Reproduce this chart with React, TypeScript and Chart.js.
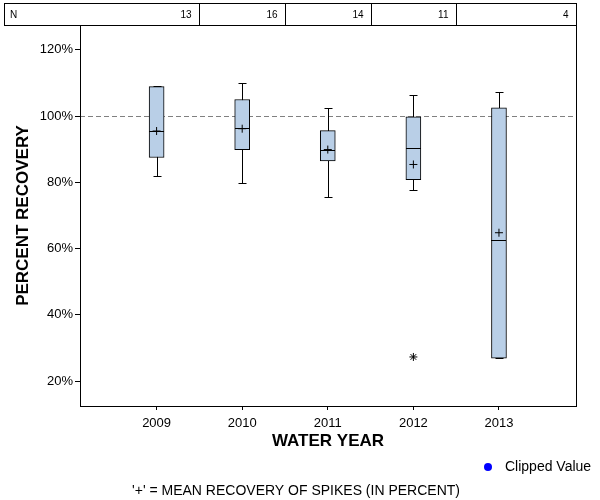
import React, { useEffect, useRef } from "react";
import { Chart, registerables } from "chart.js";

Chart.register(...registerables);

// ---- data ----
const YEARS = [2009, 2010, 2011, 2012, 2013];
const N_COUNTS = [13, 16, 14, 11, 4];
const Q1 = [87.5, 89.9, 86.5, 80.8, 26.9];
const Q3 = [108.9, 105.0, 95.6, 99.8, 102.5];
const MEDIAN = [95.4, 96.5, 89.9, 90.5, 62.6];
const MEAN = [95.5, 96.2, 89.9, 85.4, 64.8];
const WHISK_LO = [81.8, 79.8, 75.7, 77.7, 26.9];
const WHISK_HI = [109.1, 110.1, 102.5, 106.5, 107.2];
const OUTLIER_YEARS = [2012];
const OUTLIER_VALUES = [27.3];
const Y_TICKS = [20, 40, 60, 80, 100, 120];
const REF_LINE = 100;

const FONT = "'Liberation Sans', Arial, sans-serif";

const boxPlugin = {
  id: "boxExtras",
  beforeDatasetsDraw(chart: any) {
    const { ctx, chartArea: a, scales } = chart;
    const x = scales.x, y = scales.y;
    ctx.save();
    // reference line
    ctx.strokeStyle = "#808080";
    ctx.lineWidth = 1;
    ctx.setLineDash([5, 3]);
    const ry = Math.round(y.getPixelForValue(REF_LINE)) + 0.5;
    ctx.beginPath();
    ctx.moveTo(a.left, ry);
    ctx.lineTo(a.right, ry);
    ctx.stroke();
    ctx.setLineDash([]);
    // whiskers
    ctx.strokeStyle = "#000";
    YEARS.forEach((yr, i) => {
      const cx = Math.round(x.getPixelForValue(yr)) + 0.5;
      const hi = Math.round(y.getPixelForValue(WHISK_HI[i])) + 0.5;
      const lo = Math.round(y.getPixelForValue(WHISK_LO[i])) + 0.5;
      ctx.beginPath();
      ctx.moveTo(cx, hi);
      ctx.lineTo(cx, lo);
      ctx.moveTo(cx - 4, hi);
      ctx.lineTo(cx + 4, hi);
      ctx.moveTo(cx - 4, lo);
      ctx.lineTo(cx + 4, lo);
      ctx.stroke();
    });
    ctx.restore();
  },
  afterDatasetsDraw(chart: any) {
    const { ctx, scales } = chart;
    const x = scales.x, y = scales.y;
    ctx.save();
    ctx.strokeStyle = "#000";
    ctx.lineWidth = 1;
    YEARS.forEach((yr, i) => {
      const cx = x.getPixelForValue(yr);
      const my = Math.round(y.getPixelForValue(MEDIAN[i])) + 0.5;
      ctx.beginPath();
      ctx.moveTo(Math.round(cx - 7.5), my);
      ctx.lineTo(Math.round(cx + 7.5), my);
      ctx.stroke();
    });
    ctx.restore();
  },
  afterDraw(chart: any) {
    const { ctx, chartArea: a, scales } = chart;
    const x = scales.x;
    ctx.save();
    ctx.strokeStyle = "#000";
    ctx.lineWidth = 1;
    // plot frame
    ctx.strokeRect(Math.round(a.left) + 0.5, Math.round(a.top) + 0.5, Math.round(a.right - a.left), Math.round(a.bottom - a.top));
    // N table
    const tTop = 3.5, tBot = Math.round(a.top) + 0.5, tLeft = 4.5, tRight = Math.round(a.right) + 0.5;
    ctx.strokeRect(tLeft, tTop, tRight - tLeft, tBot - tTop);
    const borders = YEARS.slice(0, -1).map((yr) => Math.round(x.getPixelForValue(yr + 0.5)) + 0.5);
    ctx.beginPath();
    borders.forEach((bx) => {
      ctx.moveTo(bx, tTop);
      ctx.lineTo(bx, tBot);
    });
    ctx.stroke();
    ctx.fillStyle = "#000";
    ctx.font = `10px ${FONT}`;
    ctx.textBaseline = "middle";
    const ty = (tTop + tBot) / 2 + 1;
    ctx.textAlign = "left";
    ctx.fillText("N", 10, ty);
    ctx.textAlign = "right";
    const rights = [...borders, tRight];
    N_COUNTS.forEach((n, i) => {
      ctx.fillText(String(n), rights[i] - 8, ty);
    });
    // legend
    ctx.fillStyle = "#0000ff";
    ctx.beginPath();
    ctx.arc(488, 467, 4, 0, Math.PI * 2);
    ctx.fill();
    ctx.fillStyle = "#000";
    ctx.font = `14px ${FONT}`;
    ctx.textAlign = "left";
    ctx.fillText("Clipped Value", 505, 467);
    // footnote
    ctx.textAlign = "center";
    ctx.fillText("'+' = MEAN RECOVERY OF SPIKES (IN PERCENT)", 296, 491);
    ctx.restore();
  },
};

export default function App() {
  const ref = useRef<HTMLCanvasElement>(null);
  useEffect(() => {
    if (!ref.current) return;
    const chart = new Chart(ref.current, {
      type: "bar",
      data: {
        datasets: [
          {
            type: "bar",
            label: "IQR",
            data: YEARS.map((yr, i) => ({ x: yr, y: [Q1[i], Q3[i]] })) as any,
            backgroundColor: "#b9cfe7",
            borderColor: "#000",
            borderWidth: 1,
            borderSkipped: false,
            barThickness: 15,
            order: 3,
          },
          {
            type: "scatter",
            label: "Mean",
            data: YEARS.map((yr, i) => ({ x: yr, y: MEAN[i] })),
            pointStyle: "cross",
            radius: 4,
            borderColor: "#000",
            borderWidth: 1,
            order: 1,
          } as any,
          {
            type: "scatter",
            label: "Outlier",
            data: OUTLIER_YEARS.map((yr, i) => ({ x: yr, y: OUTLIER_VALUES[i] })),
            pointStyle: "star",
            radius: 4,
            borderColor: "#000",
            borderWidth: 1,
            order: 2,
          } as any,
        ],
      },
      options: {
        responsive: false,
        animation: false,
        layout: { padding: { top: 25, right: 24, left: 0, bottom: 0 } },
        plugins: { legend: { display: false }, tooltip: { enabled: false } },
        scales: {
          x: {
            type: "linear",
            min: 2008.105,
            max: 2013.9,
            offset: false,
            afterBuildTicks: (s: any) => {
              s.ticks = YEARS.map((v) => ({ value: v }));
            },
            afterFit: (s: any) => {
              s.height = 94;
            },
            ticks: {
              callback: (v: any) => String(v),
              color: "#000",
              font: { family: FONT, size: 13 },
              padding: 6,
              maxRotation: 0,
            },
            grid: { display: true, drawOnChartArea: false, drawTicks: true, tickLength: 4, color: "#000", offset: false },
            border: { display: true, color: "#000" },
            title: {
              display: true,
              text: "WATER YEAR",
              color: "#000",
              font: { family: FONT, size: 17, weight: "bold" },
              padding: { top: 0, bottom: 48 },
            },
          },
          y: {
            type: "linear",
            min: 12.5,
            max: 127.5,
            afterBuildTicks: (s: any) => {
              s.ticks = Y_TICKS.map((v) => ({ value: v }));
            },
            afterFit: (s: any) => {
              s.width = 80;
            },
            ticks: {
              callback: (v: any) => `${v}%`,
              color: "#000",
              font: { family: FONT, size: 13 },
              padding: 2,
            },
            grid: { display: true, drawOnChartArea: false, drawTicks: true, tickLength: 5, color: "#000" },
            border: { display: true, color: "#000" },
            title: {
              display: true,
              text: "PERCENT RECOVERY",
              color: "#000",
              font: { family: FONT, size: 17, weight: "bold" },
              padding: { top: 13, bottom: 0 },
            },
          },
        },
      } as any,
      plugins: [boxPlugin],
    });
    return () => chart.destroy();
  }, []);
  return (
    <canvas
      ref={ref}
      width={600}
      height={500}
      style={{ position: "fixed", left: 0, top: 0, width: 600, height: 500 }}
    />
  );
}
